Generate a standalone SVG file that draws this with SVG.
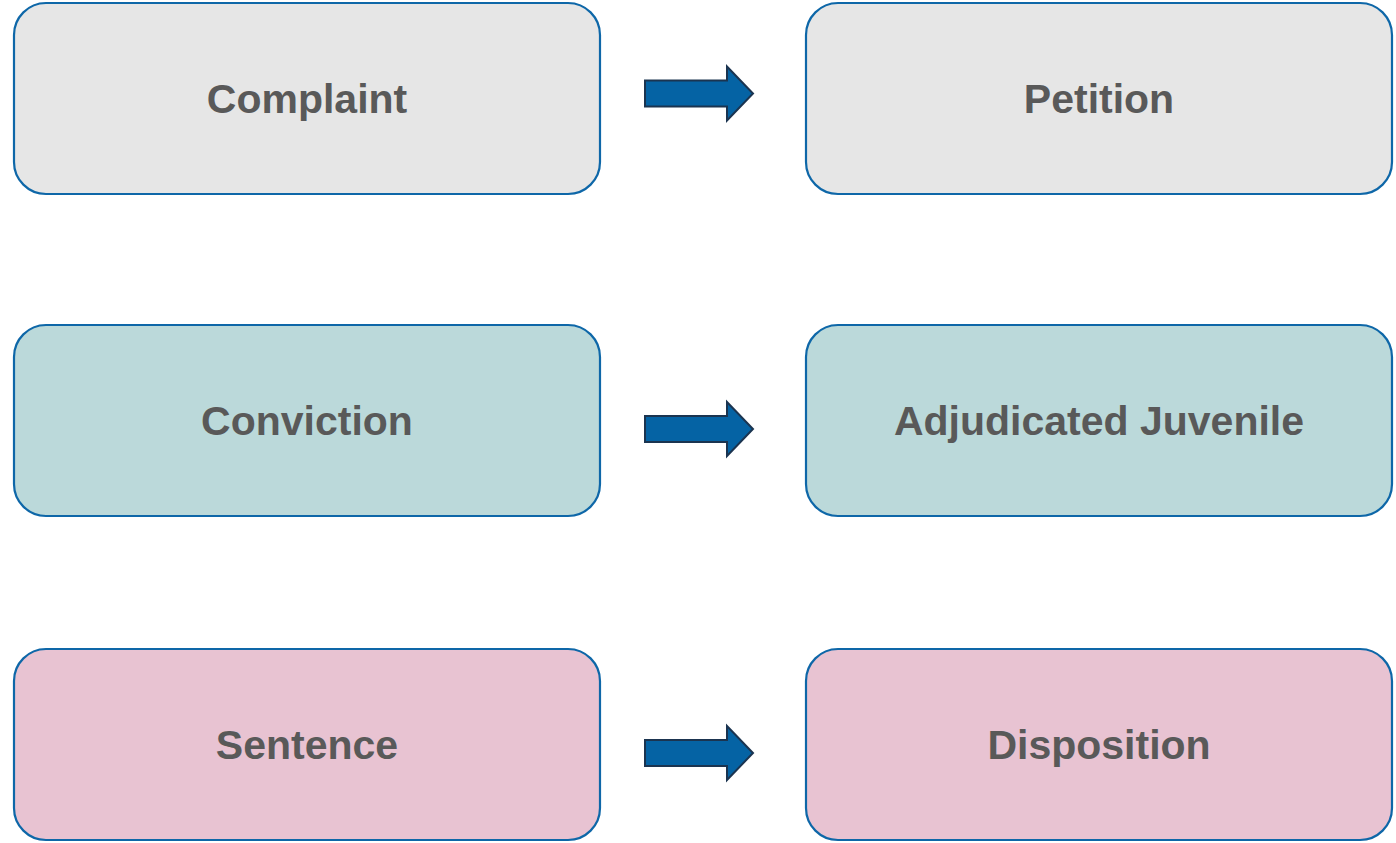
<svg xmlns="http://www.w3.org/2000/svg" width="1396" height="843" viewBox="0 0 1396 843">
<style>
.box{stroke:#0E67A8;stroke-width:2.2}
.gray{fill:#E6E6E6}
.teal{fill:#BBD9DA}
.pink{fill:#E8C3D2}
.lbl{font-family:"Liberation Sans",Arial,sans-serif;font-weight:bold;font-size:41px;fill:#595959;text-anchor:middle}
.arrow{fill:#0563A4;stroke:#1B3450;stroke-width:2;stroke-linejoin:miter}
</style>
<defs>
<path id="arr" d="M0,-13 H82 V-27 L108,0 L82,27 V13 H0 Z"/>
</defs>
<rect width="1396" height="843" fill="#FFFFFF"/>
<g id="complaint"><rect class="box gray" x="14" y="3" width="586" height="191" rx="32"/><text class="lbl" x="307" y="113">Complaint</text></g>
<g id="petition"><rect class="box gray" x="806" y="3" width="586" height="191" rx="32"/><text class="lbl" x="1099" y="113">Petition</text></g>
<g id="conviction"><rect class="box teal" x="14" y="325" width="586" height="191" rx="32"/><text class="lbl" x="307" y="435">Conviction</text></g>
<g id="adjudicated"><rect class="box teal" x="806" y="325" width="586" height="191" rx="32"/><text class="lbl" x="1099" y="435">Adjudicated Juvenile</text></g>
<g id="sentence"><rect class="box pink" x="14" y="649" width="586" height="191" rx="32"/><text class="lbl" x="307" y="759">Sentence</text></g>
<g id="disposition"><rect class="box pink" x="806" y="649" width="586" height="191" rx="32"/><text class="lbl" x="1099" y="759">Disposition</text></g>
<g id="connectors">
<use href="#arr" class="arrow" transform="translate(645,93.5)"/>
<use href="#arr" class="arrow" transform="translate(645,429)"/>
<use href="#arr" class="arrow" transform="translate(645,753)"/>
</g>
</svg>
